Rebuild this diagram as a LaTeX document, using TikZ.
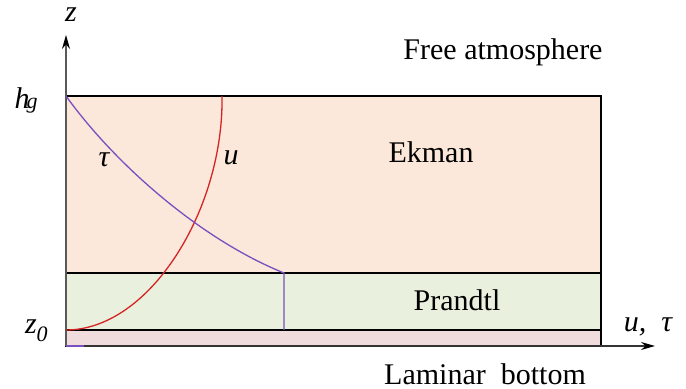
\documentclass[tikz,border=0pt]{standalone}
\usepackage{fontspec}
\setmainfont{Liberation Serif}
\newfontfamily\labelfont{Liberation Serif}
\usetikzlibrary{positioning,arrows.meta}
\definecolor{ekmanfill}{HTML}{FCE8DA}
\definecolor{prandtlfill}{HTML}{E9F0DD}
\definecolor{laminarfill}{HTML}{F0DCDC}
\definecolor{ucol}{HTML}{D42424}
\definecolor{taucol}{HTML}{7A4FC0}

\begin{document}
\begin{tikzpicture}[x=0.5pt,y=0.5pt,font=\labelfont\fontsize{15}{18}\selectfont,
    layer/.style={draw,line width=0.7pt},
    axis/.style={line width=0.7pt,-{Stealth[black,length=7pt,width=4pt]}},
    profile/.style={line width=0.65pt},
    sub/.style={font=\labelfont\fontsize{11}{13}\selectfont\itshape}]
  % sketch of the layers, heights not to scale
  \useasboundingbox (0,0) rectangle (686,389);
  \draw[layer,fill=ekmanfill] (66,116) rectangle (601,293);
  \draw[layer,fill=prandtlfill] (66,59) rectangle (601,116);
  \draw[layer,fill=laminarfill] (66,43) rectangle (601,59);
  \coordinate (o) at (66,43);
  \coordinate (zo) at (66,59);
  \coordinate (hg) at (66,293);
  \coordinate (utop) at (222,293);
  \coordinate (tauknee) at (284,116);
  \coordinate (taufoot) at (284,59);
  \coordinate (ztip) at (66,354);
  \coordinate (utip) at (655,43);
  \draw[axis,gray!70!black] (o) -- (ztip);
  \draw[axis,black!80] (o) -- (utip);
  \draw[profile,ucol] (zo) .. controls (150,59) and (224,180) .. (utop);
  \draw[profile,taucol] (hg) .. controls (115,225) and (200,150) .. (tauknee) -- (taufoot);
  \draw[profile,taucol] (o) -- ++(18,0);
  \node (zlab) at (71,374) {\itshape z};
  \node (hglab) at (22,291) {\itshape h};
  \node[sub] (hgsub) at (32,283) {g};
  \node (zolab) at (31,62) {\itshape z};
  \node[sub] (zosub) at (42,55) {0};
  \node (utaulab) at (648,62) {\itshape u,\enspace τ};
  \node (taulab) at (104,229) {\itshape τ};
  \node (ulab) at (231,231) {\itshape u};
  \node (free) at (503,337) {Free atmosphere};
  \node (ekman) at (431,237) {Ekman};
  \node (prandtl) at (457,89) {Prandtl};
  \node (laminar) at (485,15) {Laminar\enspace bottom};
\end{tikzpicture}
\end{document}
